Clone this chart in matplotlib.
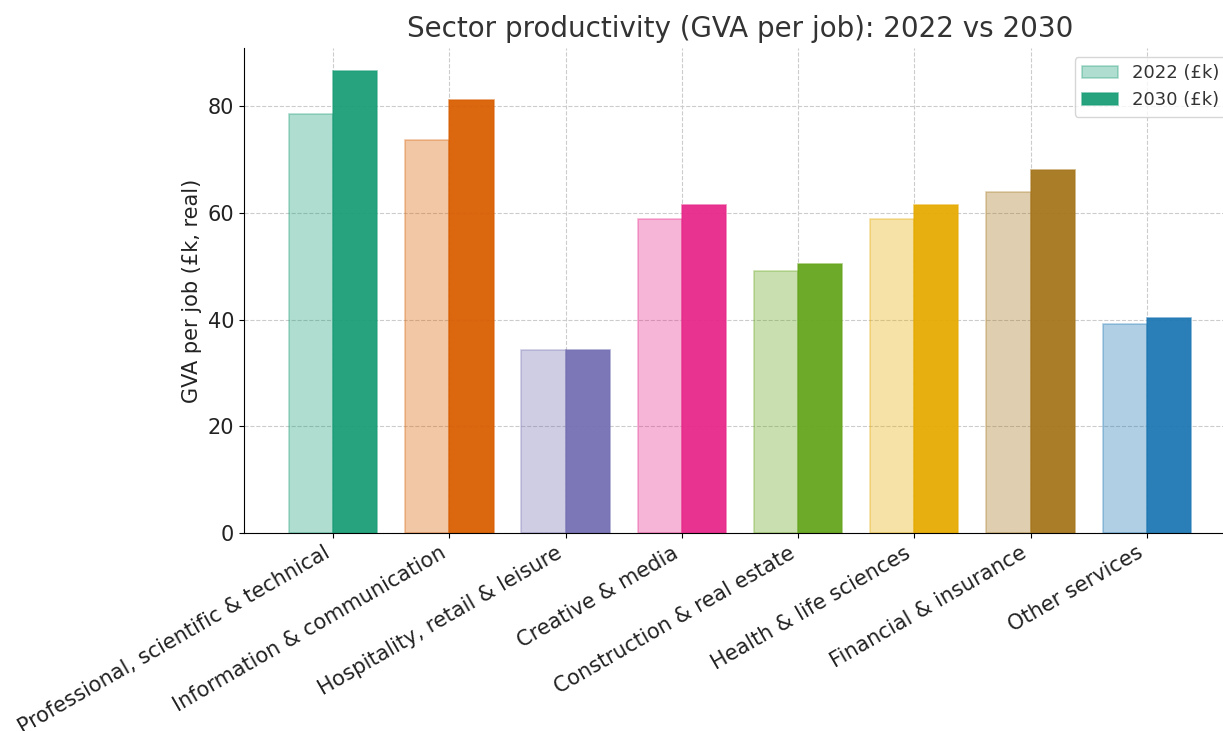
import matplotlib
matplotlib.use("Agg")
import matplotlib.pyplot as plt
import numpy as np
from matplotlib.colors import to_rgba

categories = ["Professional, scientific & technical", "Information & communication",
              "Hospitality, retail & leisure", "Creative & media",
              "Construction & real estate", "Health & life sciences",
              "Financial & insurance", "Other services"]
gva_2022 = [78.5, 73.6, 34.3, 58.8, 49.1, 58.8, 63.9, 39.2]
gva_2030 = [86.6, 81.1, 34.4, 61.5, 50.4, 61.5, 68.0, 40.3]
colors = ["#1b9e77", "#d95f02", "#7570b3", "#e7298a", "#66a61e", "#e6ab02", "#a6761d", "#1f78b4"]

fig = plt.figure(figsize=(12.23, 7.31), dpi=100)
ax = fig.add_axes([0.1995, 0.2709, 0.8111, 0.6634])

x = np.arange(len(categories))
w = 0.38
for i in range(len(categories)):
    c = colors[i]
    ax.bar(x[i] - w/2, gva_2022[i], w, color=to_rgba(c, 0.35), edgecolor=to_rgba(c, 0.35),
           linewidth=1.2, label="2022 (£k)" if i == 0 else None, zorder=2)
    ax.bar(x[i] + w/2, gva_2030[i], w, color=to_rgba(c, 0.95), edgecolor=to_rgba(c, 0.6),
           linewidth=1.2, label="2030 (£k)" if i == 0 else None, zorder=2)

ax.set_xticks(x)
ax.set_xticklabels(categories, rotation=30, ha="right", fontsize=15, color="#222222")
ax.tick_params(axis="y", labelsize=15, labelcolor="#222222")
ax.set_ylabel("GVA per job (£k, real)", fontsize=15, color="#222222")
ax.set_title("Sector productivity (GVA per job): 2022 vs 2030", fontsize=20, color="#333333", pad=8)
ax.grid(True, linestyle="--", color="#cccccc", linewidth=0.8, zorder=0)
ax.set_axisbelow(True)
ax.spines["top"].set_visible(False)
ax.spines["right"].set_visible(False)
ax.set_yticks([0, 20, 40, 60, 80])
ax.legend(loc="upper right", fontsize=13, labelcolor="#333333")

fig.savefig("out.png", dpi=100)
